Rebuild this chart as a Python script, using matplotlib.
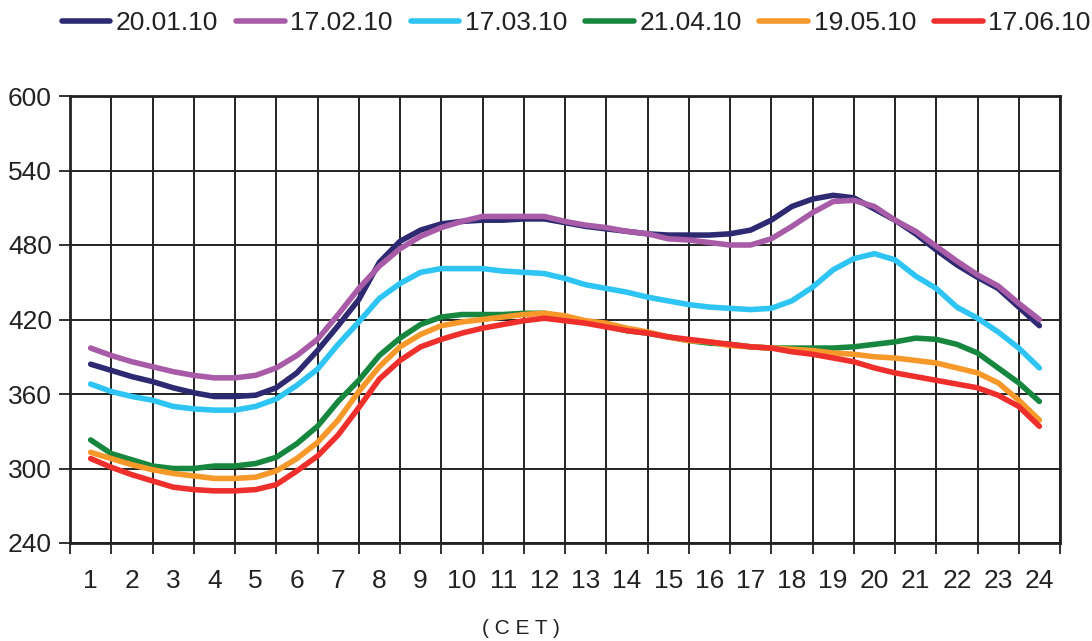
import numpy as np
import matplotlib
matplotlib.use("Agg")
import matplotlib.pyplot as plt
from matplotlib.ticker import FixedLocator

plt.rcParams["font.family"] = ["Liberation Sans", "DejaVu Sans"]

# half-hourly points, hour 1 .. 24
hours = np.arange(1, 24.01, 0.5)

jan = [384, 379, 374, 370, 365, 361, 358, 358, 359, 365, 377, 395, 415, 436, 466, 483,
       492, 497, 499, 500, 500, 501, 501, 498, 495, 493, 491, 489, 488, 488, 488, 489,
       492, 500, 511, 517, 520, 518, 509, 500, 489, 476, 464, 454, 445, 430, 415]
feb = [397, 391, 386, 382, 378, 375, 373, 373, 375, 381, 391, 404, 424, 445, 463, 477,
       487, 494, 499, 503, 503, 503, 503, 499, 496, 494, 491, 489, 485, 484, 482, 480,
       480, 485, 495, 506, 515, 516, 511, 500, 491, 479, 467, 456, 447, 433, 420]
mar = [368, 362, 358, 355, 350, 348, 347, 347, 350, 356, 367, 380, 400, 418, 437, 449,
       458, 461, 461, 461, 459, 458, 457, 453, 448, 445, 442, 438, 435, 432, 430, 429,
       428, 429, 435, 446, 460, 469, 473, 468, 455, 445, 430, 421, 410, 397, 381]
apr = [323, 312, 307, 302, 300, 300, 302, 302, 304, 309, 320, 334, 354, 371, 391, 405,
       416, 422, 424, 424, 424, 425, 425, 422, 418, 415, 411, 409, 406, 403, 401, 400,
       398, 397, 397, 397, 397, 398, 400, 402, 405, 404, 400, 393, 381, 369, 354]
may = [313, 308, 303, 299, 296, 294, 292, 292, 293, 298, 308, 321, 339, 362, 382, 398,
       408, 415, 418, 420, 422, 424, 425, 423, 419, 417, 413, 410, 406, 403, 402, 399,
       398, 397, 396, 395, 393, 392, 390, 389, 387, 385, 381, 377, 369, 355, 339]
jun = [308, 301, 295, 290, 285, 283, 282, 282, 283, 287, 298, 310, 327, 349, 372, 387,
       398, 404, 409, 413, 416, 419, 421, 419, 417, 414, 411, 409, 406, 404, 402, 400,
       398, 397, 394, 392, 389, 386, 381, 377, 374, 371, 368, 365, 359, 350, 334]

series = [jan, feb, mar, apr, may, jun]
labels = ["20.01.10", "17.02.10", "17.03.10", "21.04.10", "19.05.10", "17.06.10"]
colors = ["#2e2a72", "#a85ca8", "#2ec4f3", "#17873f", "#f7982a", "#ee2f2b"]
hour_labels = [str(h) for h in range(1, 25)]
y_ticks = [240, 300, 360, 420, 480, 540, 600]

fig = plt.figure(figsize=(10.92, 6.41), dpi=100)
ax = fig.add_axes([70 / 1092, 1 - 543 / 641, 990 / 1092, 447 / 641])

for vals, lab, col in zip(series, labels, colors):
    ax.plot(hours, vals, color=col, lw=4.0, label=lab, solid_capstyle="round")

ax.set_xlim(0.5, 24.5)
ax.set_ylim(240, 600)
ax.set_yticks(y_ticks)
ax.xaxis.set_major_locator(FixedLocator(np.arange(0.5, 24.6, 1)))
ax.xaxis.set_minor_locator(FixedLocator(np.arange(1, 25)))
ax.set_xticklabels([])
ax.set_xticklabels(hour_labels, minor=True)
ax.tick_params(axis="x", which="major", length=8, width=1.3, color="#222", direction="out")
ax.tick_params(axis="x", which="minor", length=0, pad=19, labelsize=19, labelcolor="#222")
ax.tick_params(axis="y", length=8, width=1.3, color="#222", pad=5, labelsize=19, labelcolor="#222")
ax.grid(True, which="major", color="#222", lw=1.4)
for s in ax.spines.values():
    s.set_color("#222")
    s.set_linewidth(2.0)

fig.text(521 / 1092, 1 - 628 / 641, "( C E T )", ha="center", va="center",
         fontsize=15, color="#222")

fig.legend(loc="center", bbox_to_anchor=(576 / 1092, 1 - 23 / 641), ncol=6,
           frameon=False, fontsize=19, handlelength=1.85, handletextpad=0.2,
           columnspacing=0.68, borderpad=0, labelcolor="#222")

fig.savefig("out.png", dpi=100)
